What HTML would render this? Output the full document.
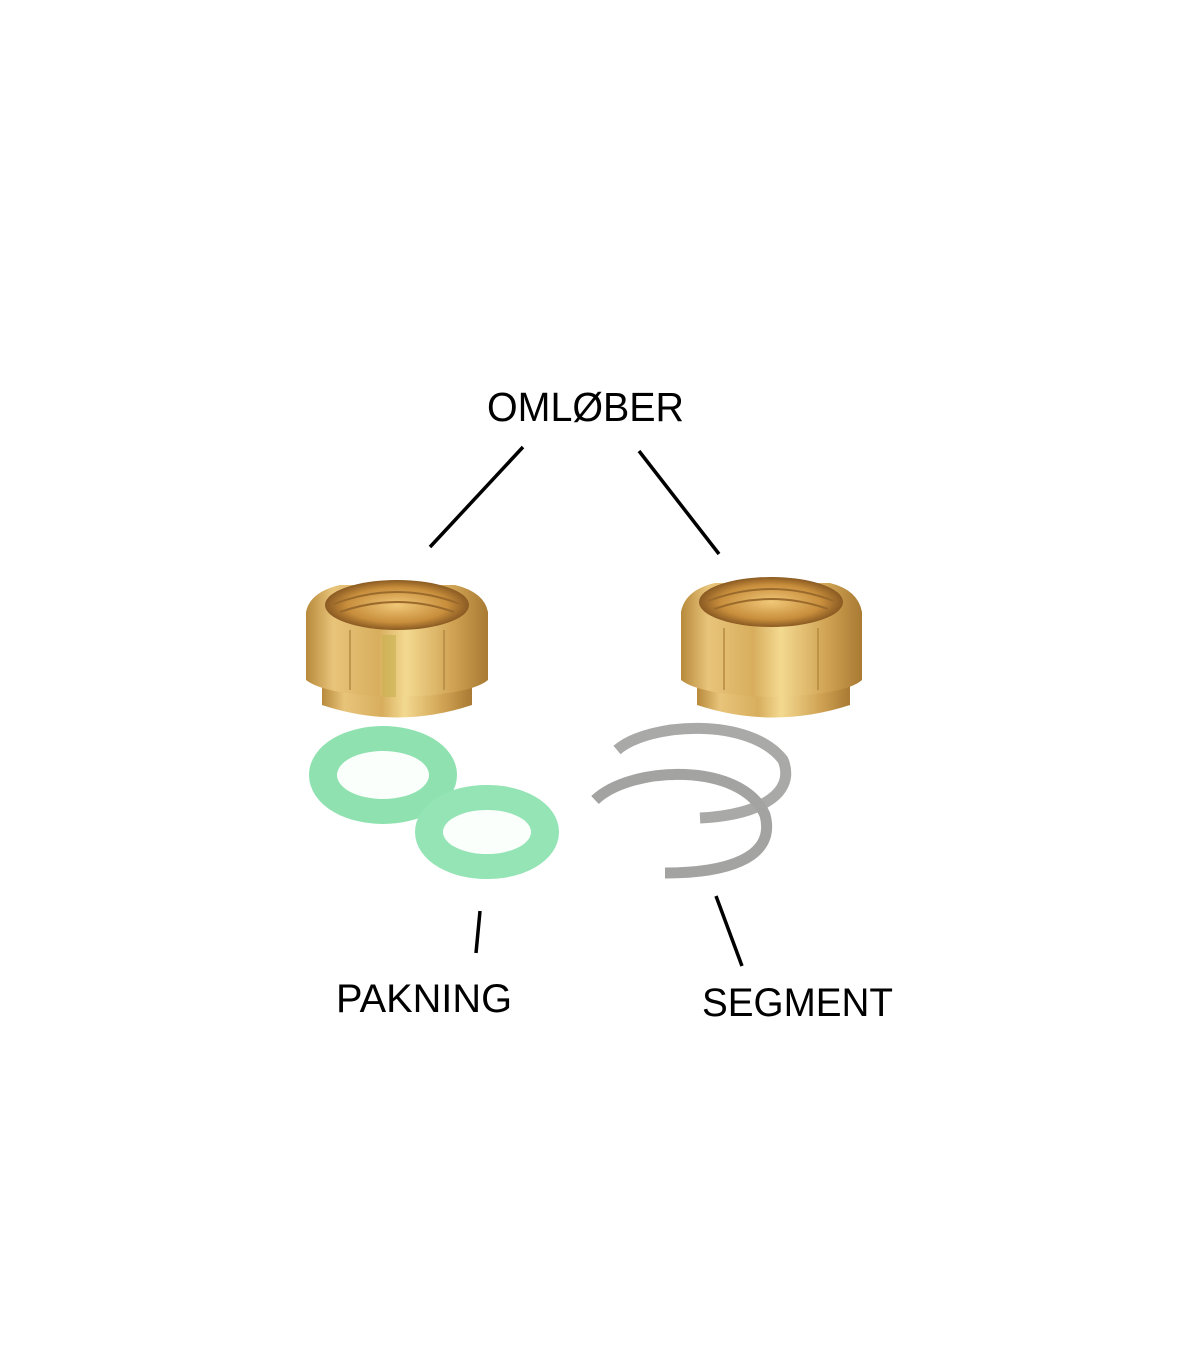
<!DOCTYPE html>
<html><head><meta charset="utf-8"><style>
html,body{margin:0;padding:0;background:#fff;}
svg{display:block;}
text{font-family:"Liberation Sans",sans-serif;fill:#000;}
</style></head><body>
<svg width="1200" height="1372" viewBox="0 0 1200 1372" xmlns="http://www.w3.org/2000/svg">
<defs>
<linearGradient id="brass" x1="0" x2="1" y1="0" y2="0">
<stop offset="0" stop-color="#b88a3c"/><stop offset="0.15" stop-color="#e8c47a"/>
<stop offset="0.4" stop-color="#d8ae5e"/><stop offset="0.55" stop-color="#f3d990"/>
<stop offset="0.8" stop-color="#d1a455"/><stop offset="1" stop-color="#a87a33"/>
</linearGradient>
<radialGradient id="inner" cx="0.5" cy="0.5" r="0.5">
<stop offset="0" stop-color="#f0c878"/><stop offset="0.7" stop-color="#c88e3c"/><stop offset="1" stop-color="#8a5a22"/>
</radialGradient>
</defs>
<rect width="1200" height="1372" fill="#fff"/>

<text x="487" y="421" font-size="41" textLength="197" lengthAdjust="spacingAndGlyphs">OMLØBER</text>
<line x1="523" y1="447" x2="430" y2="547" stroke="#000" stroke-width="3.5"/>
<line x1="639" y1="451" x2="719" y2="554" stroke="#000" stroke-width="3.5"/>

<!-- left nut -->
<g>
<path d="M322,680 L472,680 L472,705 Q397,730 322,705 Z" fill="url(#brass)"/>
<path d="M306,612 Q310,592 340,585 L455,585 Q484,592 488,612 L488,680 Q470,695 397,697 Q325,695 306,680 Z" fill="url(#brass)"/>
<ellipse cx="397" cy="605" rx="72" ry="25" fill="url(#inner)"/>
<path d="M334,604 Q397,580 460,604 M340,612 Q397,592 454,612" stroke="#9a6a2c" stroke-width="2" fill="none"/>
<rect x="382" y="635" width="14" height="62" fill="#c8b050" opacity="0.6"/>
<line x1="350" y1="630" x2="350" y2="690" stroke="#b48a40" stroke-width="1.5"/>
<line x1="444" y1="630" x2="444" y2="690" stroke="#b48a40" stroke-width="1.5"/>
</g>
<!-- right nut -->
<g>
<path d="M697,680 L850,680 L850,705 Q773,730 697,705 Z" fill="url(#brass)"/>
<path d="M681,612 Q685,590 715,583 L830,583 Q858,590 862,612 L862,680 Q845,695 772,697 Q700,695 681,680 Z" fill="url(#brass)"/>
<ellipse cx="771" cy="602" rx="72" ry="25" fill="url(#inner)"/>
<path d="M708,601 Q771,577 834,601 M714,609 Q771,589 828,609" stroke="#9a6a2c" stroke-width="2" fill="none"/>
<line x1="724" y1="628" x2="724" y2="690" stroke="#b48a40" stroke-width="1.5"/>
<line x1="818" y1="628" x2="818" y2="690" stroke="#b48a40" stroke-width="1.5"/>
</g>

<!-- washers -->
<ellipse cx="383" cy="775" rx="60" ry="35" fill="none" stroke="#8fe2b0" stroke-width="28"/>
<ellipse cx="383" cy="775" rx="46" ry="24" fill="#fafffc"/>
<ellipse cx="487" cy="832" rx="58" ry="33" fill="none" stroke="#94e4b6" stroke-width="28"/>
<ellipse cx="487" cy="832" rx="44" ry="22" fill="#fafffc"/>

<!-- segments -->
<path d="M617,750 C650,722 750,717 783,760 C796,792 762,815 700,818" fill="none" stroke="#a9a9a7" stroke-width="11"/>
<path d="M595,800 C632,765 742,762 765,815 C777,860 722,873 665,873" fill="none" stroke="#a3a3a1" stroke-width="11"/>

<line x1="480" y1="911" x2="476" y2="953" stroke="#000" stroke-width="3.5"/>
<line x1="716" y1="896" x2="742" y2="966" stroke="#000" stroke-width="3.5"/>
<text x="336" y="1012" font-size="40" textLength="176" lengthAdjust="spacingAndGlyphs">PAKNING</text>
<text x="702" y="1016" font-size="40" textLength="191" lengthAdjust="spacingAndGlyphs">SEGMENT</text>
</svg>
</body></html>
